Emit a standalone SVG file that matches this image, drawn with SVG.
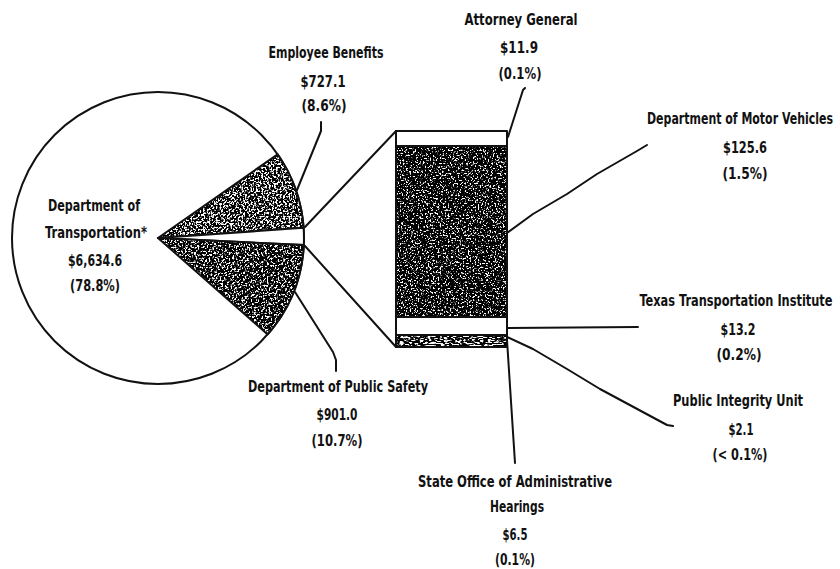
<svg xmlns="http://www.w3.org/2000/svg" width="840" height="569" viewBox="0 0 840 569">
<style>
  .lbl { font-family: "DejaVu Sans Condensed", "Liberation Sans", sans-serif; font-weight: bold; font-size: 16.5px; fill: #111; text-anchor: middle; }
  .edge { fill: none; stroke: #111; stroke-width: 2; stroke-linejoin: round; stroke-linecap: round; }
  .out { stroke: #111; stroke-width: 2; stroke-linejoin: round; }
  .white { fill: #fff; }
  .ink { fill: #000; stroke: none; }
</style>
<defs>
  <filter id="stipA" x="0" y="0" width="100%" height="100%">
    <feTurbulence type="fractalNoise" baseFrequency="0.55" numOctaves="2" seed="4" result="t"/>
    <feColorMatrix in="t" type="matrix" values="0 0 0 0 0  0 0 0 0 0  0 0 0 0 0  9 0 0 0 -3.6" result="a"/>
    <feComposite in="a" in2="SourceAlpha" operator="in"/>
  </filter>
  <filter id="stipB" x="0" y="0" width="100%" height="100%">
    <feTurbulence type="fractalNoise" baseFrequency="0.55" numOctaves="2" seed="9" result="t"/>
    <feColorMatrix in="t" type="matrix" values="0 0 0 0 0  0 0 0 0 0  0 0 0 0 0  9 0 0 0 -3.3" result="a"/>
    <feComposite in="a" in2="SourceAlpha" operator="in"/>
  </filter>
  <filter id="stipC" x="0" y="0" width="100%" height="100%">
    <feTurbulence type="fractalNoise" baseFrequency="0.6" numOctaves="2" seed="2" result="t"/>
    <feColorMatrix in="t" type="matrix" values="0 0 0 0 0  0 0 0 0 0  0 0 0 0 0  9 0 0 0 -3.0" result="a"/>
    <feComposite in="a" in2="SourceAlpha" operator="in"/>
  </filter>
  <filter id="stipD" x="0" y="0" width="100%" height="100%">
    <feTurbulence type="fractalNoise" baseFrequency="0.25 0.9" numOctaves="2" seed="5" result="t"/>
    <feColorMatrix in="t" type="matrix" values="0 0 0 0 0  0 0 0 0 0  0 0 0 0 0  9 0 0 0 -3.6" result="a"/>
    <feComposite in="a" in2="SourceAlpha" operator="in"/>
  </filter>
</defs>
<rect width="840" height="569" fill="#fff"/>

<g id="transportation">
  <circle cx="158" cy="238" r="146" class="white out"/>
  <text class="lbl" x="94" y="211" textLength="92" lengthAdjust="spacingAndGlyphs">Department of</text>
  <text class="lbl" x="96" y="238" textLength="102" lengthAdjust="spacingAndGlyphs">Transportation*</text>
  <text class="lbl" x="95" y="266" textLength="54" lengthAdjust="spacingAndGlyphs">$6,634.6</text>
  <text class="lbl" x="95" y="291" textLength="50" lengthAdjust="spacingAndGlyphs">(78.8%)</text>
</g>

<g id="employee-benefits">
  <path d="M158,238 L277.6,154.3 A146,146 0 0 1 303.6,227.8 Z" class="white"/>
  <path d="M158,238 L277.6,154.3 A146,146 0 0 1 303.6,227.8 Z" class="ink" filter="url(#stipA)"/>
  <path d="M158,238 L277.6,154.3 A146,146 0 0 1 303.6,227.8 Z" fill="none" class="out"/>
  <text class="lbl" x="326" y="58" textLength="115" lengthAdjust="spacingAndGlyphs">Employee Benefits</text>
  <text class="lbl" x="323" y="87" textLength="45" lengthAdjust="spacingAndGlyphs">$727.1</text>
  <text class="lbl" x="324" y="111" textLength="45" lengthAdjust="spacingAndGlyphs">(8.6%)</text>
</g>

<g id="other-agencies-slice">
  <path d="M158,238 L303.6,227.8 A146,146 0 0 1 303.8,245.1 Z" class="white out"/>
</g>

<g id="public-safety">
  <path d="M158,238 L303.8,245.1 A146,146 0 0 1 267.7,334.4 Z" class="white"/>
  <path d="M158,238 L303.8,245.1 A146,146 0 0 1 267.7,334.4 Z" class="ink" filter="url(#stipB)"/>
  <path d="M158,238 L303.8,245.1 A146,146 0 0 1 267.7,334.4 Z" fill="none" class="out"/>
  <text class="lbl" x="338" y="392" textLength="180" lengthAdjust="spacingAndGlyphs">Department of Public Safety</text>
  <text class="lbl" x="337" y="420" textLength="41" lengthAdjust="spacingAndGlyphs">$901.0</text>
  <text class="lbl" x="337" y="446" textLength="51" lengthAdjust="spacingAndGlyphs">(10.7%)</text>
</g>

<g id="attorney-general">
  <rect x="396" y="131" width="111" height="15" class="white out"/>
  <text class="lbl" x="521" y="25" textLength="113" lengthAdjust="spacingAndGlyphs">Attorney General</text>
  <text class="lbl" x="519" y="53" textLength="38" lengthAdjust="spacingAndGlyphs">$11.9</text>
  <text class="lbl" x="520" y="79" textLength="43" lengthAdjust="spacingAndGlyphs">(0.1%)</text>
</g>

<g id="motor-vehicles">
  <rect x="396" y="146" width="111" height="171" class="white"/>
  <rect x="396" y="146" width="111" height="171" class="ink" filter="url(#stipC)"/>
  <rect x="396" y="146" width="111" height="171" fill="none" class="out"/>
  <text class="lbl" x="740" y="124" textLength="186" lengthAdjust="spacingAndGlyphs">Department of Motor Vehicles</text>
  <text class="lbl" x="745" y="153" textLength="44" lengthAdjust="spacingAndGlyphs">$125.6</text>
  <text class="lbl" x="745" y="179" textLength="45" lengthAdjust="spacingAndGlyphs">(1.5%)</text>
</g>

<g id="transportation-institute">
  <rect x="396" y="317" width="111" height="18" class="white out"/>
  <text class="lbl" x="736" y="306" textLength="193" lengthAdjust="spacingAndGlyphs">Texas Transportation Institute</text>
  <text class="lbl" x="738" y="335" textLength="35" lengthAdjust="spacingAndGlyphs">$13.2</text>
  <text class="lbl" x="739" y="360" textLength="45" lengthAdjust="spacingAndGlyphs">(0.2%)</text>
</g>

<g id="public-integrity-and-soah">
  <rect x="396" y="335" width="111" height="12" class="white"/>
  <rect x="396" y="335" width="111" height="12" class="ink" filter="url(#stipD)"/>
  <rect x="396" y="335" width="111" height="12" fill="none" class="out"/>
</g>

<g id="public-integrity-unit">
  <text class="lbl" x="738" y="406" textLength="130" lengthAdjust="spacingAndGlyphs">Public Integrity Unit</text>
  <text class="lbl" x="741" y="435" textLength="25" lengthAdjust="spacingAndGlyphs">$2.1</text>
  <text class="lbl" x="740" y="460" textLength="55" lengthAdjust="spacingAndGlyphs">(&lt; 0.1%)</text>
</g>

<g id="administrative-hearings">
  <text class="lbl" x="515" y="487" textLength="194" lengthAdjust="spacingAndGlyphs">State Office of Administrative</text>
  <text class="lbl" x="517" y="512" textLength="54" lengthAdjust="spacingAndGlyphs">Hearings</text>
  <text class="lbl" x="515" y="540" textLength="25" lengthAdjust="spacingAndGlyphs">$6.5</text>
  <text class="lbl" x="515" y="565" textLength="40" lengthAdjust="spacingAndGlyphs">(0.1%)</text>
</g>

<g id="connectors">
  <path class="edge" d="M305,227 L396,131"/>
  <path class="edge" d="M305,246 L396,347"/>
  <path class="edge" d="M297,190 L321,131 L321,122"/>
  <path class="edge" d="M508,137 L523,90 L525,88"/>
  <path class="edge" d="M507,233 L533,214 L567,194 L597,174 L637,151 L647,145"/>
  <path class="edge" d="M507,328 L638,327"/>
  <path class="edge" d="M507,337 L533,349 L567,369 L600,389 L667,425 L673,426"/>
  <path class="edge" d="M507,340 L515,463"/>
  <path class="edge" d="M295,292 L333,352 L336,360 L336,371"/>
</g>
</svg>
